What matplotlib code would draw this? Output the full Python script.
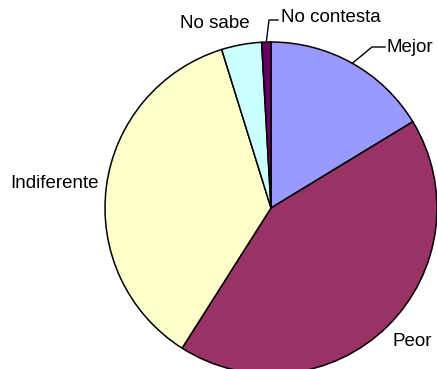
import numpy as np
import matplotlib
matplotlib.use("Agg")
import matplotlib.pyplot as plt

labels = ["Mejor", "Peor", "Indiferente", "No sabe", "No contesta"]
values = [16.3, 42.7, 36.2, 3.9, 0.9]
colors = ["#9999FF", "#993366", "#FFFFCC", "#CCFFFF", "#660066"]

W, H = 437, 369
CX, CY, R = 271, H - 208, 166

fig = plt.figure(figsize=(W / 100, H / 100), dpi=100, facecolor="white")
ax = fig.add_axes([0, 0, 1, 1])
ax.pie(values, colors=colors, startangle=90, counterclock=False,
       center=(CX, CY), radius=R, frame=True,
       wedgeprops=dict(edgecolor="black", linewidth=1.1))
ax.set_xlim(0, W)
ax.set_ylim(0, H)
ax.set_aspect("equal")
ax.axis("off")

# mid angles of each wedge (degrees, measured ccw from +x)
cum = np.cumsum([0] + values)
mids = [90 - 360 * (cum[i] + cum[i + 1]) / 2 / sum(values) for i in range(len(values))]

def edge(i):
    a = np.radians(mids[i])
    return CX + R * np.cos(a), CY + R * np.sin(a)

font = dict(family="Liberation Sans", fontsize=13.5, color="black", va="center")

# Mejor with leader
x0, y0 = edge(0)
ax.plot([x0, 372, 385], [y0, H - 47, H - 47], color="black", lw=1)
ax.text(387, H - 47, labels[0], ha="left", **font)

# Peor
ax.text(392, H - 342, labels[1], ha="left", **font)

# Indiferente
ax.text(99, H - 184, labels[2], ha="right", **font)

# No sabe
ax.text(250, H - 23, labels[3], ha="right", **font)

# No contesta with leader
x0, y0 = edge(4)
ax.plot([x0, 269, 278], [y0, H - 20, H - 20], color="black", lw=1)
ax.text(281, H - 18, labels[4], ha="left", **font)

fig.savefig("out.png", dpi=100, facecolor="white")
